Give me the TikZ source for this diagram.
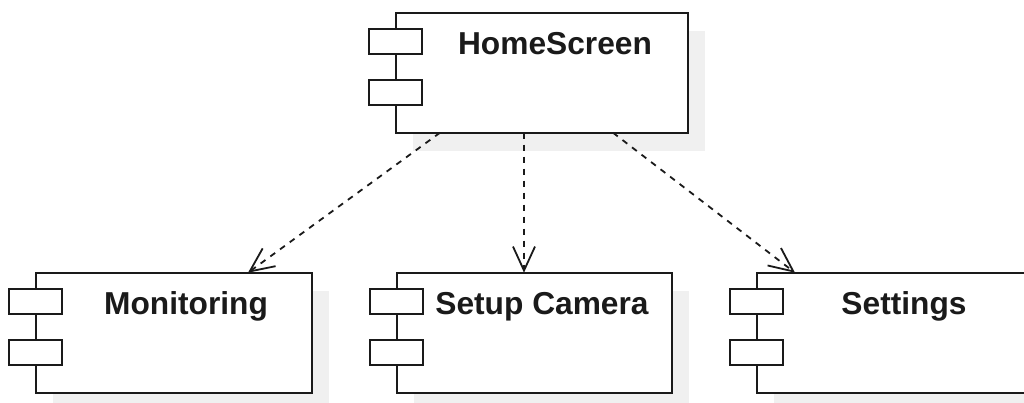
\documentclass[tikz,border=0pt]{standalone}
\usepackage{fontspec}
\setmainfont{Liberation Sans}
\usetikzlibrary{arrows.meta,shadows}
\definecolor{edge}{HTML}{1A1A1A}
\definecolor{shade}{HTML}{F0F0F0}
\tikzset{
  comp/.style={draw=edge, line width=2pt, fill=white, inner sep=0pt, outer sep=0pt,
    minimum height=120pt,
    drop shadow={shadow xshift=17pt, shadow yshift=-18pt, fill=shade, opacity=1}},
  port/.style={draw=edge, line width=2pt, fill=white, inner sep=0pt, outer sep=0pt,
    minimum width=53pt, minimum height=25pt},
  title/.style={font=\fontsize{31.7}{38}\selectfont\bfseries, anchor=base,
    inner sep=0pt, text=edge},
  dep/.style={draw=edge, line width=1.8pt, dash pattern=on 6pt off 6pt,
    -{Straight Barb[length=24pt,width=22pt,line width=1.8pt]}},
}
\begin{document}
\begin{tikzpicture}[x=1pt,y=-1pt]
\useasboundingbox (0,0) rectangle (1024,402);

% HomeScreen component
\node[comp, minimum width=292pt] (home) at (542,72.7) {};
\node[port] (homep1) at (395.5,41.7) {};
\node[port] (homep2) at (395.5,92.7) {};
\node[title] (homet) at (555,54.5) {HomeScreen};

% Monitoring component
\node[comp, minimum width=276pt] (mon) at (174,332.7) {};
\node[port] (monp1) at (35.5,301.7) {};
\node[port] (monp2) at (35.5,352.7) {};
\node[title] (mont) at (186,314.5) {Monitoring};

% Setup Camera component
\node[comp, minimum width=275pt] (cam) at (534.5,332.7) {};
\node[port] (camp1) at (396.5,301.7) {};
\node[port] (camp2) at (396.5,352.7) {};
\node[title] (camt) at (542,314.5) {Setup Camera};

% Settings component
\node[comp, minimum width=276pt] (set) at (895,332.7) {};
\node[port] (setp1) at (756.5,301.7) {};
\node[port] (setp2) at (756.5,352.7) {};
\node[title] (sett) at (904,314.5) {Settings};

% dependencies
\draw[dep] ([xshift=44pt]home.south west) -- ([xshift=212pt]mon.north west);
\draw[dep] ([xshift=128pt]home.south west) -- ([xshift=127pt]cam.north west);
\draw[dep] ([xshift=217pt]home.south west) -- ([xshift=38pt]set.north west);
\end{tikzpicture}
\end{document}
